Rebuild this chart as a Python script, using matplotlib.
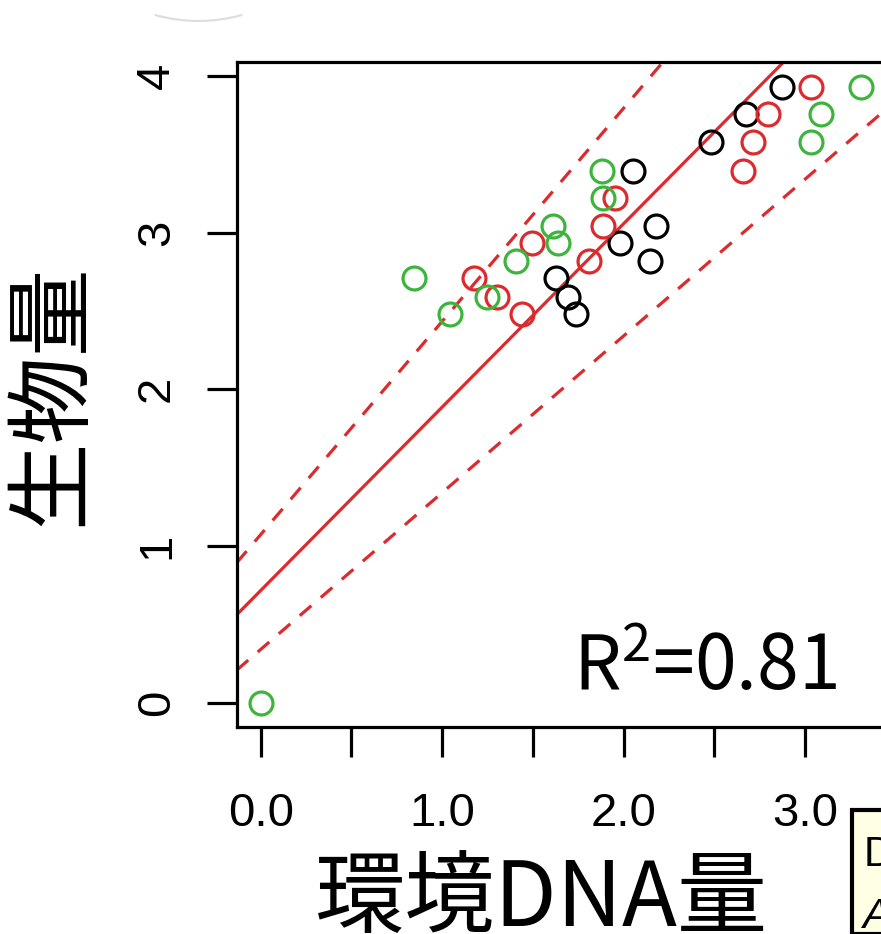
import numpy as np
import matplotlib
matplotlib.use("Agg")
import matplotlib.pyplot as plt
from matplotlib.patches import Rectangle, Arc

# ---------------- data ----------------
black_x = [2.875, 2.675, 2.481, 2.054, 2.178, 1.981, 2.146, 1.626, 1.696, 1.738]
black_y = [3.931, 3.755, 3.580, 3.392, 3.045, 2.936, 2.821, 2.708, 2.591, 2.480]

red_x = [3.032, 2.795, 2.716, 2.660, 1.953, 1.889, 1.494, 1.810, 1.178, 1.301, 1.439]
red_y = [3.931, 3.755, 3.580, 3.392, 3.223, 3.045, 2.936, 2.821, 2.708, 2.591, 2.480]

green_x = [3.308, 3.087, 3.032, 1.880, 1.885, 1.613, 1.641, 1.407, 0.845, 1.246, 1.044, 0.0]
green_y = [3.931, 3.755, 3.580, 3.392, 3.223, 3.045, 2.936, 2.821, 2.708, 2.591, 2.480, 0.0]

# regression line and dashed band lines (intercept, slope)
fit_line = (0.716, 1.170)
upper_line = (1.073, 1.360)
lower_line = (0.340, 1.000)

x_ticks = [0.0, 0.5, 1.0, 1.5, 2.0, 2.5, 3.0, 3.5]
x_ticklabels = ["0.0", "", "1.0", "", "2.0", "", "3.0", ""]
y_ticks = [0, 1, 2, 3, 4]
y_ticklabels = ["0", "1", "2", "3", "4"]

x_label = "環境DNA量"
y_label = "生物量"
r2_value = 0.81

RED = "#DC2B2F"
GREEN = "#3DB53D"

# ---------------- figure ----------------
plt.rcParams["font.family"] = ["Liberation Sans", "Noto Sans CJK JP", "DejaVu Sans"]
plt.rcParams["mathtext.fontset"] = "custom"
plt.rcParams["mathtext.rm"] = "Noto Sans CJK JP"
plt.rcParams["lines.scale_dashes"] = False

W, H = 881, 934
fig = plt.figure(figsize=(W / 100, H / 100), dpi=100)
fig.patch.set_facecolor("white")

left_px, right_px, top_px, bottom_px = 236.7, 1000.0, 61.7, 727.3
ax = fig.add_axes([left_px / W, 1 - bottom_px / H,
                   (right_px - left_px) / W, (bottom_px - top_px) / H])
ax.set_xlim(-0.1323, 4.0755)
ax.set_ylim(-0.157, 4.0906)

for sp in ax.spines.values():
    sp.set_linewidth(2.3)
    sp.set_color("black")

# lines
for (a, b), ls in [(fit_line, "-"), (upper_line, "--"), (lower_line, "--")]:
    ln = ax.axline((0, a), slope=b, color=RED, linewidth=2.3, zorder=2)
    if ls == "--":
        ln.set_dashes((11, 9))

# points
mk = dict(marker="o", linestyle="none", markersize=16.5, markeredgewidth=2.3,
          markerfacecolor="none", zorder=3)
ax.plot(black_x, black_y, markeredgecolor="black", **mk)
ax.plot(red_x, red_y, markeredgecolor=RED, **mk)
ax.plot(green_x, green_y, markeredgecolor=GREEN, **mk)

# ticks
ax.set_xticks(x_ticks)
ax.set_xticklabels(x_ticklabels)
ax.set_yticks(y_ticks)
ax.set_yticklabels(y_ticklabels, rotation=90, va="center")
ax.tick_params(axis="both", direction="out", length=21.6, width=2.3,
               labelsize=34, colors="black")
ax.tick_params(axis="x", pad=25)
ax.tick_params(axis="y", pad=20)

# R^2 text
ax.text(1.722, 0.081, r"R$^{2}$=%.2f" % r2_value, fontsize=54,
        family=["Noto Sans CJK JP"], ha="left", va="baseline", color="black")

# axis labels
fig.text(541 / W, 1 - 926 / H, x_label, family=["Noto Sans CJK JP"],
         fontsize=65, ha="center", va="baseline")
fig.text(52 / W, 1 - 395 / H, y_label, family=["Noto Sans CJK JP"],
         fontsize=63, ha="center", va="center", rotation=90)

# partial yellow note box at bottom right
fig.add_artist(Rectangle((852 / W, 0), 0.2, 1 - 810 / H, transform=fig.transFigure,
                         facecolor="#FFFFE3", edgecolor="black", linewidth=3, zorder=5))
fig.text(864 / W, 1 - 866 / H, "D", fontsize=30, ha="left", va="baseline", zorder=6)
fig.text(862 / W, 1 - 928 / H, "A", fontsize=30, ha="left", va="baseline",
         style="italic", zorder=6)

# faint arc at the top-left
fig.add_artist(Arc((198.5 / W, 1 - (-137) / H), 2 * 158 / W, 2 * 158 / H,
                   theta1=253, theta2=287, transform=fig.transFigure,
                   color="#DDDDDD", linewidth=1.5))

fig.savefig("out.png", dpi=100)
